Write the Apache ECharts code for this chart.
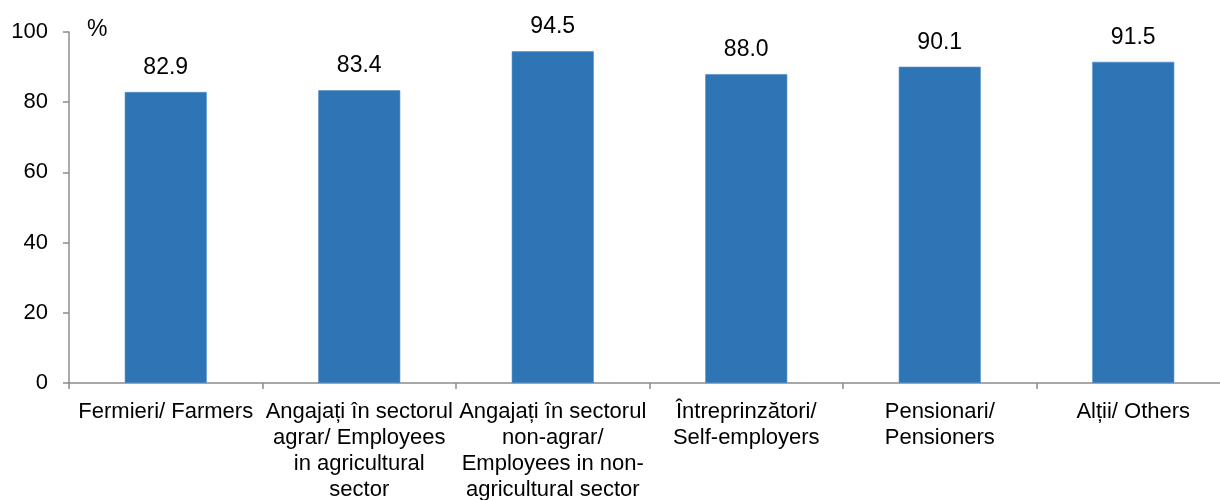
<!DOCTYPE html>
<html>
<head>
<meta charset="utf-8">
<script src="https://cdn.jsdelivr.net/npm/echarts@6/dist/echarts.min.js"></script>
<style>
  html, body { margin: 0; padding: 0; background: #fff; }
  #chart { width: 1220px; height: 500px; }
</style>
</head>
<body>
<div id="chart"></div>
<script>
// Share (%) by occupational status
const categories = [
  'Fermieri/ Farmers',
  'Angajați în sectorul\nagrar/ Employees\nin agricultural\nsector',
  'Angajați în sectorul\nnon-agrar/\nEmployees in non-\nagricultural sector',
  'Întreprinzători/\nSelf-employers',
  'Pensionari/\nPensioners',
  'Alții/ Others'
];
const values = [82.9, 83.4, 94.5, 88.0, 90.1, 91.5];
const yTicks = { min: 0, max: 100, interval: 20 };
const unitLabel = '%';

const chart = echarts.init(document.getElementById('chart'));
const font = '"Liberation Sans", Arial, sans-serif';
const axisGray = '#8c8c8c';

chart.setOption({
  animation: false,
  grid: {
    left: 69, top: 32, width: 1161, bottom: 117,
    containLabel: false, outerBoundsMode: 'none'
  },
  xAxis: {
    type: 'category',
    data: categories,
    axisLine: { lineStyle: { color: axisGray, width: 1.5 } },
    axisTick: { show: true, length: 6, lineStyle: { color: axisGray, width: 1.5 } },
    axisLabel: {
      interval: 0, margin: 16, color: '#000',
      fontFamily: font, fontSize: 22, lineHeight: 26, align: 'center'
    }
  },
  yAxis: {
    type: 'value',
    min: yTicks.min, max: yTicks.max, interval: yTicks.interval,
    name: unitLabel,
    nameLocation: 'end',
    nameGap: -9,
    nameTextStyle: { color: '#000', fontFamily: font, fontSize: 23, align: 'left', padding: [0, 0, 0, 18] },
    splitLine: { show: false },
    axisLine: { show: true, lineStyle: { color: axisGray, width: 1.5 } },
    axisTick: { show: true, length: 6, lineStyle: { color: axisGray, width: 1.5 } },
    axisLabel: { color: '#000', fontFamily: font, fontSize: 22, margin: 21 }
  },
  series: [{
    type: 'bar',
    data: values,
    barWidth: 82,
    itemStyle: { color: '#2E75B6', borderColor: '#4f8cc6', borderWidth: 0.6 },
    label: {
      show: true, position: 'top', distance: 13,
      color: '#000', fontFamily: font, fontSize: 23,
      formatter: p => p.value.toFixed(1)
    }
  }]
});
</script>
</body>
</html>
